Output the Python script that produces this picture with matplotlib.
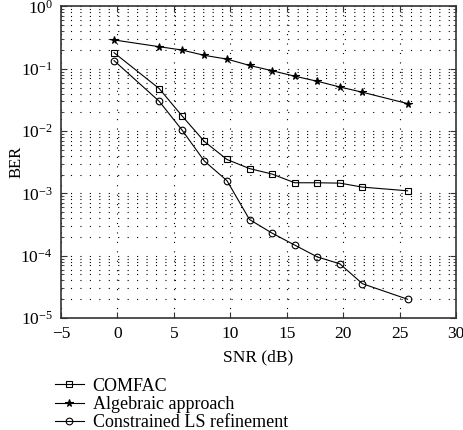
import matplotlib
matplotlib.use("Agg")
import matplotlib.pyplot as plt
from matplotlib.ticker import LogLocator, MultipleLocator, NullFormatter

plt.rcParams['font.family'] = ['Liberation Serif', 'DejaVu Serif']
plt.rcParams['mathtext.fontset'] = 'stix'

snr = [-0.3, 3.7, 5.7, 7.7, 9.7, 11.7, 13.7, 15.7, 17.7, 19.7, 21.7, 25.7]
comfac = [0.181, 0.048, 0.0177, 0.0068, 0.0035, 0.0025, 0.00204, 0.00148,
          0.00148, 0.00146, 0.00126, 0.0011]
algebraic = [0.29, 0.226, 0.20, 0.164, 0.143, 0.113, 0.093, 0.076, 0.063,
             0.051, 0.042, 0.0276]
constrained = [0.135, 0.030, 0.0105, 0.0033, 0.0016, 0.00038, 0.00023,
               0.000148, 0.0000955, 0.000074, 0.0000355, 0.00002]
labels = ["COMFAC", "Algebraic approach", "Constrained LS refinement"]

fig = plt.figure(figsize=(4.64, 4.30), dpi=100)
ax = fig.add_axes([0.1315, 0.2605, 0.8515, 0.7245])

lw = 0.8
ax.plot(snr, comfac, '-', color='black', lw=lw, marker='s', ms=4.5,
        mfc='none', mew=0.8, label=labels[0])
ax.plot(snr, algebraic, '-', color='black', lw=lw, marker='*', ms=5.5,
        mfc='black', mew=0.8, label=labels[1])
ax.plot(snr, constrained, '-', color='black', lw=lw, marker='o', ms=4.8,
        mfc='none', mew=0.8, label=labels[2])

ax.set_yscale('log')
ax.set_xlim(-5, 30)
ax.set_ylim(1e-5, 1)
ax.xaxis.set_major_locator(MultipleLocator(5))
ax.yaxis.set_major_locator(LogLocator(base=10, numticks=10))
ax.yaxis.set_minor_locator(LogLocator(base=10, subs=range(2, 10), numticks=20))
ax.yaxis.set_minor_formatter(NullFormatter())

dot = (0, (1, 7.5))
ax.grid(True, which='major', axis='both', color='black', lw=0.8, linestyle=dot)
ax.grid(True, which='minor', axis='y', color='black', lw=0.8, linestyle=dot)

ax.tick_params(which='both', direction='in', top=True, right=True,
               labelsize=12.5, color='#333333')
ax.tick_params(which='major', length=4, pad=6)
ax.tick_params(which='minor', length=2)
for s in ax.spines.values():
    s.set_color('#333333')
    s.set_linewidth(1.2)

ax.set_xlabel('SNR (dB)', fontsize=12.5, labelpad=5)
ax.set_ylabel('BER', fontsize=12)
ax.yaxis.set_label_coords(-0.092, 0.5)

fig.legend(loc='upper left', bbox_to_anchor=(0.118, 0.122), frameon=False,
           fontsize=13, handlelength=1.6, handletextpad=0.5, labelspacing=0.08,
           borderaxespad=0, borderpad=0)

fig.savefig('out.png', dpi=100)
